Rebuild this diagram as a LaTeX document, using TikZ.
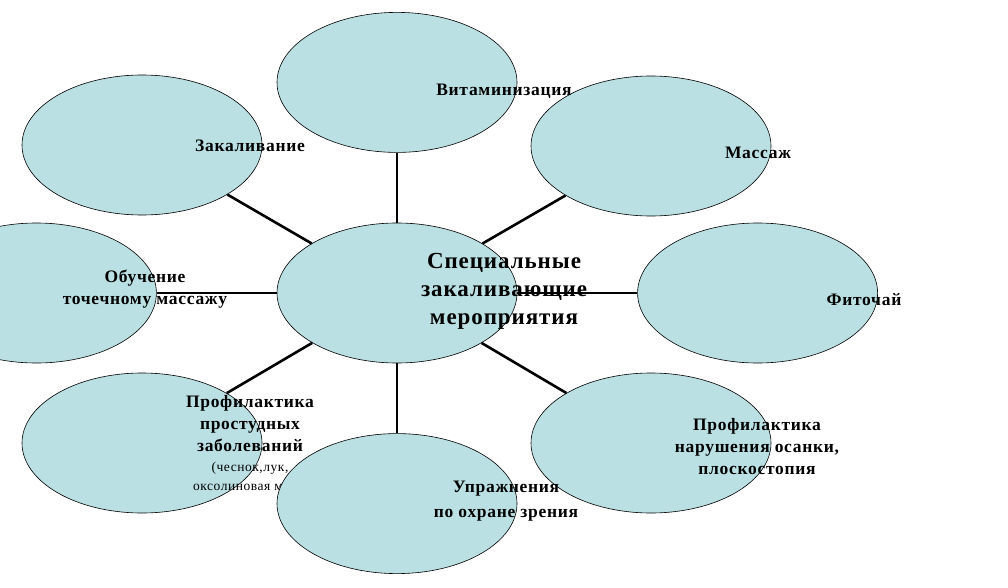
\documentclass[tikz,border=0pt]{standalone}
\usepackage{fontspec}
\setmainfont{Liberation Serif}
\newfontfamily\widefont[LetterSpace=4]{Liberation Serif}
\usetikzlibrary{shapes.geometric}
\usetikzlibrary{positioning}

\definecolor{bubblefill}{HTML}{BBE0E3}

\begin{document}
\begin{tikzpicture}[x=1pt,y=-1pt]

\tikzset{
    bubble/.style={draw, ellipse, fill=bubblefill, line width=0.6pt, minimum width=240pt, minimum height=140pt, inner sep=0pt},
    spoke/.style={line width=2.6pt},
    caption/.style={font=\widefont\bfseries\fontsize{17.5}{22}\selectfont, align=center, inner sep=0pt},
    note/.style={font=\widefont\fontsize{13.5}{19}\selectfont, align=center, inner sep=0pt},
    title/.style={font=\widefont\bfseries\fontsize{23}{28}\selectfont, align=center, inner sep=0pt}
}

\pgfmathsetmacro{\G}{70}
\pgfmathsetmacro{\H}{120}

%%%%%%%%%%%%%%%%%%%%%%%%%%%%%%%%%%%%%%%%%%%%%%%%%%%%%%%%%
%                       Begin Picture                   %
%%%%%%%%%%%%%%%%%%%%%%%%%%%%%%%%%%%%%%%%%%%%%%%%%%%%%%%%%

\useasboundingbox (0,0) rectangle (1008,588);
\clip (0,0) rectangle (1008,588);

% Centre
\node[bubble] (C) at (397,293) {};

% Top and sides
\node[bubble, above=\G pt of C] (V) {};
\node[bubble, left=\H pt of C] (L) {};
\node[bubble, right=\H pt of C] (R) {};

% Diagonals
\node[bubble] (TL) at (142,145) {};
\node[bubble] (TR) at (651,146) {};
\node[bubble] (BL) at (142,443) {};
\node[bubble] (BR) at (651,443) {};

% Label of the lower left one (partly hidden by the bottom one)
\node[caption] (blcap) at (250,424) {Профилактика\\простудных\\заболеваний};
\node[note, below=10pt of blcap] (blnote) {(чеснок,лук,\\оксолиновая мазь)};

% Bottom
\node[bubble, below=\G pt of C] (U) {};

%%% Spokes %%%
\foreach \n in {V,TL,TR,L,R,BL,BR,U}
  \draw[spoke] (C) -- (\n);

%%% Labels %%%
\node[title] (ctitle) at (504,291) {Специальные\\закаливающие\\мероприятия};
\node[caption] (vcap) at (504,91) {Витаминизация};
\node[caption] (tlcap) at (250,146) {Закаливание};
\node[caption] (trcap) at (758,153) {Массаж};
\node[caption] (lcap) at (145,289) {Обучение\\точечному массажу};
\node[caption] (rcap) at (864,300) {Фиточай};
\node[caption] (brcap) at (757,447) {Профилактика\\нарушения осанки,\\плоскостопия};
\node[caption] (ucap) at (506,501) {Упражнения\\[3pt]по охране зрения};

\end{tikzpicture}
\end{document}
